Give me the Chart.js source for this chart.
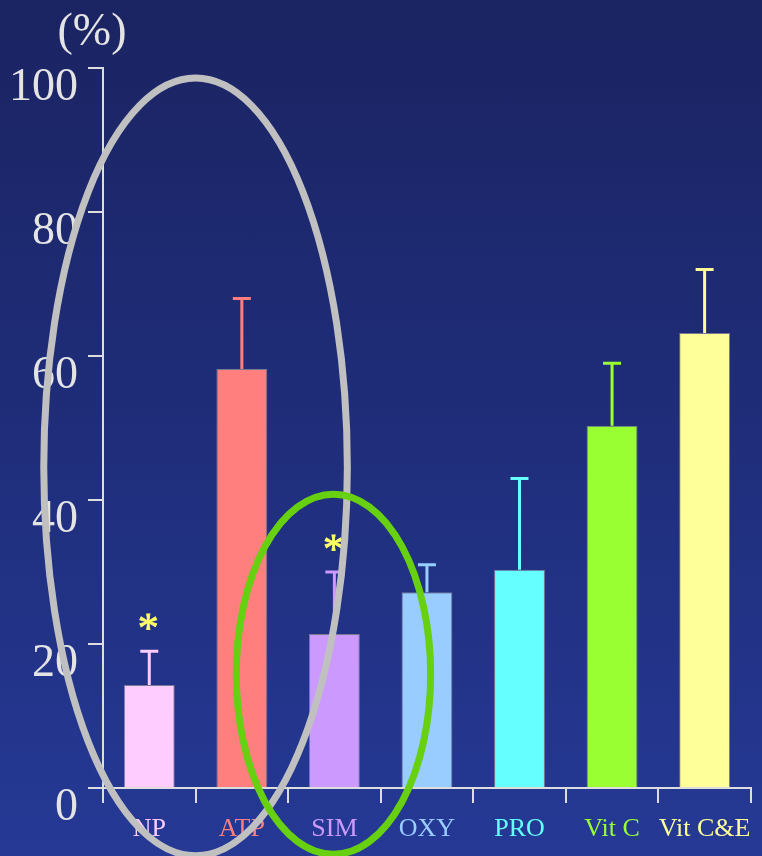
<!DOCTYPE html>
<html>
<head>
<meta charset="utf-8">
<script src="https://cdn.jsdelivr.net/npm/chart.js@4/dist/chart.umd.min.js"></script>
<style>
  html, body { margin: 0; padding: 0; }
  body {
    width: 762px; height: 856px; overflow: hidden;
    background: linear-gradient(to bottom, #1b2462 0%, #1f2d7a 50%, #253995 100%);
  }
  #wrap { position: relative; width: 762px; height: 856px; }
</style>
</head>
<body>
<div id="wrap"><canvas id="barChart" width="762" height="856"></canvas></div>
<script>
// Data
const categories = ['NP', 'ATP', 'SIM', 'OXY', 'PRO', 'Vit C', 'Vit C&E'];
const values = [14.3, 58.2, 21.4, 27.2, 30.3, 50.3, 63.2];
const errors = [4.7, 9.8, 8.6, 3.8, 12.7, 8.7, 8.8];
const significant = [true, false, true, false, false, false, false];
const yTicks = [0, 20, 40, 60, 80, 100];
const barColors = ['#ffccff', '#ff7f7f', '#cc99ff', '#99ccff', '#66ffff', '#99ff33', '#ffff99'];

// highlight ellipses, in category index / value units
const ellipses = [
  { cx: 0.5, cy: 44.6, rx: 1.64, ry: 54, color: '#c0c0c0' },
  { cx: 1.99, cy: 15.8, rx: 1.05, ry: 25, color: '#66d011' }
];

const serif = "'Liberation Serif', 'Times New Roman', serif";

// error bars + asterisks
const errorBarPlugin = {
  id: 'errorBars',
  afterDatasetsDraw(chart) {
    const ctx = chart.ctx;
    const xs = chart.scales.x, ys = chart.scales.y;
    ctx.save();
    values.forEach((v, i) => {
      const x = xs.getPixelForValue(i);
      const yTop = ys.getPixelForValue(v);
      const yErr = ys.getPixelForValue(v + errors[i]);
      ctx.strokeStyle = barColors[i];
      ctx.lineWidth = 3;
      ctx.beginPath();
      ctx.moveTo(x, yTop);
      ctx.lineTo(x, yErr);
      ctx.moveTo(x - 9, yErr);
      ctx.lineTo(x + 9, yErr);
      ctx.stroke();
      if (significant[i]) {
        ctx.fillStyle = '#ffff66';
        ctx.strokeStyle = '#ffff66';
        ctx.lineWidth = 0.8;
        ctx.font = '42px ' + serif;
        ctx.textAlign = 'center';
        ctx.textBaseline = 'alphabetic';
        ctx.fillText('*', x - 1, yErr - 9);
        ctx.strokeText('*', x - 1, yErr - 9);
      }
    });
    ctx.restore();
  }
};

const overlayPlugin = {
  id: 'overlay',
  afterDraw(chart) {
    const ctx = chart.ctx;
    const xs = chart.scales.x, ys = chart.scales.y;
    const catW = xs.getPixelForValue(1) - xs.getPixelForValue(0);
    const unit = ys.getPixelForValue(0) - ys.getPixelForValue(1);
    ctx.save();
    ellipses.forEach(e => {
      ctx.strokeStyle = e.color;
      ctx.lineWidth = 7;
      ctx.beginPath();
      ctx.ellipse(xs.getPixelForValue(0) + e.cx * catW, ys.getPixelForValue(e.cy),
        e.rx * catW, e.ry * unit, 0, 0, Math.PI * 2);
      ctx.stroke();
    });
    ctx.fillStyle = '#e4e4e4';
    ctx.font = '46px ' + serif;
    ctx.textAlign = 'center';
    ctx.textBaseline = 'middle';
    ctx.fillText('(%)', 92, 33);
    ctx.restore();
  }
};

const barCtx = document.getElementById('barChart').getContext('2d');
new Chart(barCtx, {
  type: 'bar',
  data: {
    labels: categories,
    datasets: [{
      data: values,
      backgroundColor: barColors,
      borderColor: 'rgba(130,130,150,0.9)',
      borderWidth: 1,
      barPercentage: 0.55,
      categoryPercentage: 1
    }]
  },
  options: {
    responsive: false,
    animation: false,
    layout: { padding: { top: 68, right: 8, left: 0, bottom: 0 } },
    plugins: { legend: { display: false }, tooltip: { enabled: false } },
    scales: {
      x: {
        grid: { offset: true, drawOnChartArea: false, color: '#dddddd', lineWidth: 2, tickLength: 15 },
        border: { color: '#dddddd', width: 2 },
        ticks: {
          color: c => barColors[c.index],
          font: { family: serif, size: 26 },
          padding: 11,
          maxRotation: 0,
          autoSkip: false
        },
        afterFit: s => { s.height = 68; }
      },
      y: {
        min: 0,
        max: 100,
        afterBuildTicks: s => { s.ticks = yTicks.map(v => ({ value: v })); },
        grid: { drawOnChartArea: false, color: '#dddddd', lineWidth: 2, tickLength: 15 },
        border: { color: '#dddddd', width: 2 },
        ticks: {
          color: '#e4e4e4',
          font: { family: serif, size: 46 },
          padding: 10,
          labelOffset: 20
        },
        afterFit: s => { s.width = 103; }
      }
    }
  },
  plugins: [errorBarPlugin, overlayPlugin]
});
</script>
</body>
</html>
